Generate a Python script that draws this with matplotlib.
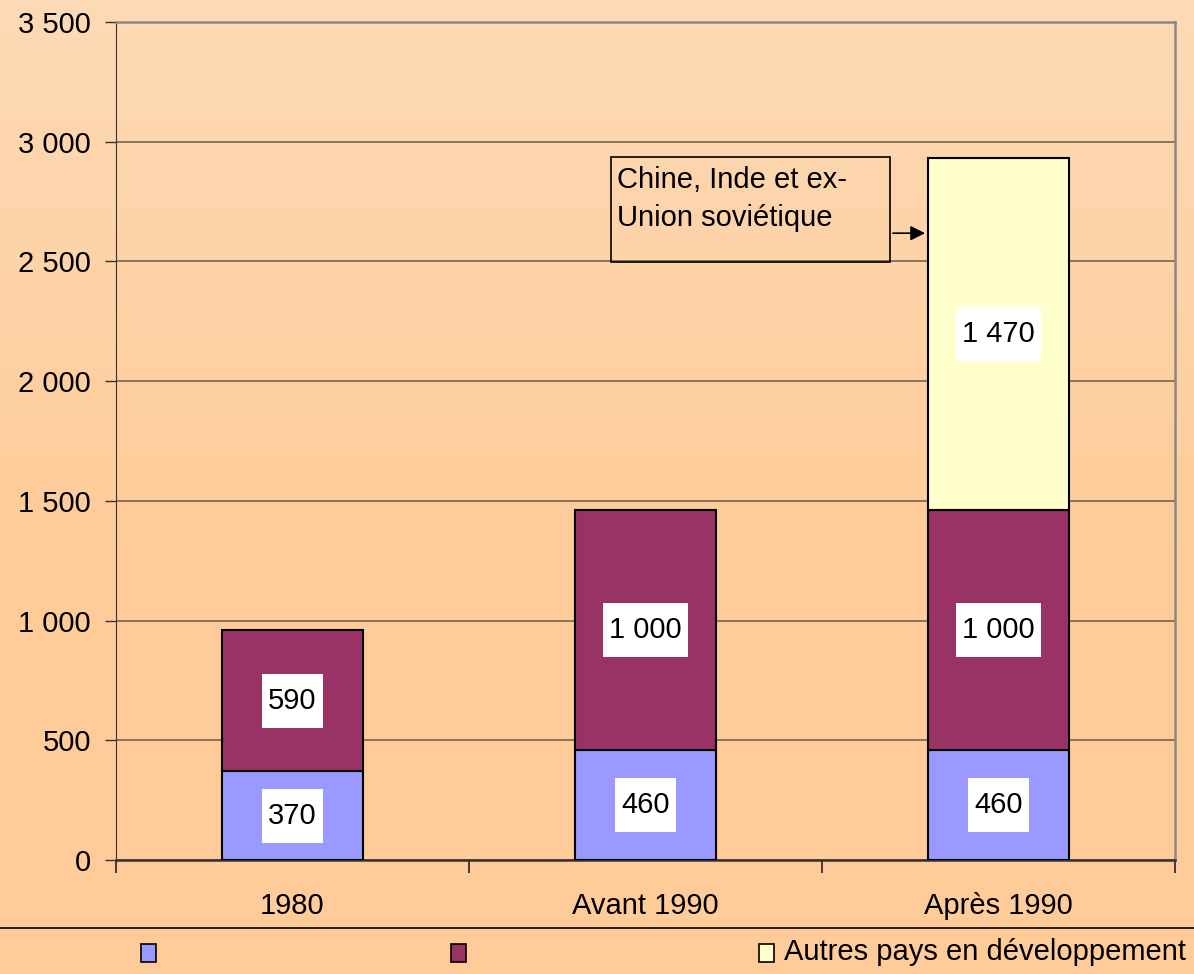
import matplotlib
import numpy as np

matplotlib.use("Agg")
import matplotlib.pyplot as plt
from matplotlib.patches import Rectangle
from matplotlib.lines import Line2D
from matplotlib.path import Path

categories = ["1980", "Avant 1990", "Après 1990"]
series_names = ["", "", "Autres pays en développement"]
series_values = [
    [370, 460, 460],
    [590, 1000, 1000],
    [0, 0, 1470],
]
series_colors = ["#9999FF", "#993366", "#FFFFCC"]
yticks = [0, 500, 1000, 1500, 2000, 2500, 3000, 3500]
ytick_labels = ["0", "500", "1 000", "1 500", "2 000", "2 500", "3 000", "3 500"]
note_text = "Chine, Inde et ex-\nUnion soviétique"

plt.rcParams["font.family"] = ["Liberation Sans", "DejaVu Sans"]
FS = 21


def label_box(x0, y0, width, height, mutation_size):
    # cadre blanc plus haut que large autour des etiquettes
    px, py = 6, 13
    x0, y0 = x0 - px, y0 - py
    x1, y1 = x0 + width + 2 * px, y0 + height + 2 * py
    return Path([(x0, y0), (x1, y0), (x1, y1), (x0, y1), (x0, y0)], closed=True)


W, H = 1194, 974
fig = plt.figure(figsize=(W / 100, H / 100), dpi=100)

# fond en degrade peche
bg = fig.add_axes([0, 0, 1, 1], zorder=-10)
grad = np.linspace(0, 1, 256)[:, None]
top = np.array([0xFD, 0xDA, 0xB6]) / 255
bot = np.array([0xFF, 0xCC, 0x99]) / 255
t = np.clip(grad / 0.55, 0, 1)
img = (top * (1 - t)[..., None] + bot * t[..., None])
bg.imshow(np.repeat(img, 2, axis=1), aspect="auto", extent=[0, 1, 0, 1])
bg.set_axis_off()

left, right, ytop, ybot = 116, 1175, 22, 860
ax = fig.add_axes([left / W, 1 - ybot / H, (right - left) / W, (ybot - ytop) / H])
ax.patch.set_alpha(0)

x = np.arange(len(categories))
bottom = np.zeros(len(categories))
for vals, color in zip(series_values, series_colors):
    vals = np.array(vals, dtype=float)
    mask = vals > 0
    ax.bar(x[mask], vals[mask], 0.4, bottom=bottom[mask], color=color,
           edgecolor="black", linewidth=1.5, zorder=3)
    for xi, v, b in zip(x[mask], vals[mask], bottom[mask]):
        ax.text(xi, b + v / 2, f"{int(v):,}".replace(",", " "), ha="center", va="center",
                fontsize=FS, zorder=5,
                bbox=dict(boxstyle=label_box, facecolor="white", edgecolor="none"))
    bottom += vals

ax.set_xlim(-0.5, 2.5)
ax.set_ylim(0, 3500)
ax.set_yticks(yticks)
ax.set_yticklabels(ytick_labels, fontsize=FS)
ax.yaxis.grid(True, color="#6b5a4a", linewidth=1.1, zorder=0)
ax.set_axisbelow(True)
ax.tick_params(axis="y", length=8, width=1, color="#333333", pad=10)

ax.set_xticks(x)
ax.set_xticklabels(categories, fontsize=FS)
ax.tick_params(axis="x", which="major", length=0, pad=23)
ax.set_xticks([-0.5, 0.5, 1.5, 2.5], minor=True)
ax.tick_params(axis="x", which="minor", length=9, width=1.2, color="#222222")

for s in ["top", "right"]:
    ax.spines[s].set_color("#888888")
    ax.spines[s].set_linewidth(1.8)
ax.spines["left"].set_color("#333333")
ax.spines["bottom"].set_color("#333333")
ax.spines["bottom"].set_linewidth(1.8)

# encadre annotation
ax.add_patch(Rectangle((0.902, 2497), 1.693 - 0.902, 2936 - 2497, facecolor="none",
                       edgecolor="black", linewidth=1.2, zorder=6))
ax.text(0.92, 2900, note_text, ha="left", va="top", fontsize=FS, linespacing=1.45, zorder=6)
ax.annotate("", xy=(1.8, 2618), xytext=(1.693, 2618),
            arrowprops=dict(arrowstyle="-|>", color="black", lw=1.2, mutation_scale=22),
            zorder=6)

# legende manuelle
fig.add_artist(Line2D([0, 1], [1 - 928 / H, 1 - 928 / H], color="black", linewidth=1.2))
leg_x = [141, 451, 759]
for lx, color, name in zip(leg_x, series_colors, series_names):
    fig.add_artist(Rectangle((lx / W, 1 - 962 / H), 15 / W, 18 / H, facecolor=color,
                             edgecolor="black", linewidth=1.2))
    if name:
        fig.text((lx + 25) / W, 1 - 952 / H, name, ha="left", va="center", fontsize=FS)

fig.savefig("out.png", dpi=100)
